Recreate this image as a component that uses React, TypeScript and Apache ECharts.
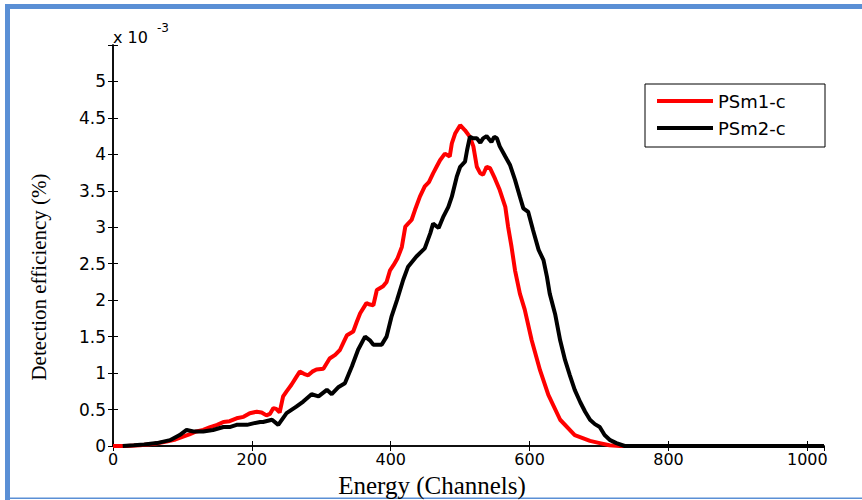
import React, { useEffect, useRef } from "react";
import * as echarts from "echarts";

// Detection efficiency (x 10^-3 %) versus energy channel
const psm1Channels = [0, 20, 39, 60, 77, 90, 101, 110, 120, 130, 140, 150, 159, 168, 178, 188, 197, 207, 214, 221, 226, 231, 235, 240, 245, 250, 257, 263, 269, 275, 281, 287, 293, 303, 312, 320, 327, 332, 337, 346, 351, 356, 365, 370, 375, 380, 389, 394, 399, 404, 410, 416, 421, 430, 435, 442, 449, 455, 461, 466, 471, 478, 485, 488, 493, 500, 507, 514, 519, 524, 529, 533, 538, 543, 550, 557, 565, 569, 574, 579, 586, 593, 603, 615, 627, 644, 665, 687, 701, 715, 730, 1024];
const psm1Values = [0, 0, 0.01, 0.03, 0.06, 0.09, 0.13, 0.16, 0.2, 0.22, 0.26, 0.29, 0.33, 0.34, 0.38, 0.4, 0.45, 0.47, 0.46, 0.42, 0.44, 0.52, 0.51, 0.46, 0.68, 0.75, 0.84, 0.93, 1.02, 0.99, 0.97, 1.02, 1.05, 1.06, 1.2, 1.25, 1.32, 1.42, 1.52, 1.57, 1.7, 1.82, 1.96, 1.94, 1.93, 2.14, 2.19, 2.25, 2.41, 2.48, 2.58, 2.73, 3.01, 3.1, 3.24, 3.42, 3.56, 3.62, 3.74, 3.83, 3.92, 4.01, 3.97, 4.15, 4.29, 4.4, 4.33, 4.24, 4.11, 3.83, 3.74, 3.72, 3.83, 3.81, 3.67, 3.51, 3.28, 3.01, 2.73, 2.41, 2.09, 1.87, 1.45, 1.04, 0.7, 0.36, 0.15, 0.07, 0.04, 0.01, 0, 0];

const psm2Channels = [14, 30, 45, 63, 82, 96, 106, 116, 130, 144, 159, 168, 178, 193, 202, 212, 216, 229, 238, 250, 264, 274, 286, 296, 308, 315, 325, 334, 344, 353, 363, 370, 375, 387, 394, 401, 409, 418, 425, 437, 449, 457, 461, 469, 476, 483, 488, 495, 500, 507, 510, 514, 519, 524, 529, 533, 538, 545, 549, 553, 557, 565, 572, 579, 586, 591, 598, 605, 613, 620, 625, 629, 637, 644, 651, 658, 665, 673, 680, 687, 694, 701, 708, 716, 725, 737, 1024];
const psm2Values = [0, 0.01, 0.02, 0.04, 0.08, 0.15, 0.22, 0.2, 0.2, 0.22, 0.26, 0.26, 0.29, 0.29, 0.31, 0.33, 0.33, 0.36, 0.29, 0.45, 0.54, 0.61, 0.71, 0.68, 0.77, 0.71, 0.81, 0.86, 1.09, 1.32, 1.5, 1.45, 1.39, 1.39, 1.5, 1.77, 2.0, 2.28, 2.46, 2.6, 2.71, 2.92, 3.05, 2.99, 3.15, 3.28, 3.42, 3.69, 3.83, 3.9, 4.06, 4.24, 4.22, 4.22, 4.16, 4.22, 4.25, 4.17, 4.24, 4.22, 4.11, 3.97, 3.85, 3.65, 3.42, 3.26, 3.21, 2.96, 2.69, 2.55, 2.32, 2.09, 1.8, 1.45, 1.18, 0.97, 0.77, 0.6, 0.47, 0.36, 0.3, 0.26, 0.15, 0.08, 0.04, 0, 0];

const seriesNames = ["PSm1-c", "PSm2-c"];
const xTitle = "Energy (Channels)";
const yTitle = "Detection efficiency (%)";

const pairs = (xs: number[], ys: number[]) => xs.map((x, i) => [x, ys[i]]);

const FRAME = "#5a8fd5";
const TICK_FONT = "DejaVu Sans";

export default function App() {
  const ref = useRef<HTMLDivElement>(null);

  useEffect(() => {
    if (!ref.current) return;
    const chart = echarts.init(ref.current, null, { renderer: "svg" });

    const axisLine = { show: true, lineStyle: { color: "#000", width: 1.5 } };
    const axisTick = { show: true, inside: true, length: 5, lineStyle: { color: "#000", width: 1 } };

    chart.setOption({
      animation: false,
      backgroundColor: "#fff",
      grid: { left: 113, right: 38, top: 45, bottom: 54 },
      xAxis: [
        {
          type: "value",
          position: "bottom",
          min: 0,
          max: 1024,
          interval: 200,
          axisLine,
          axisTick,
          splitLine: { show: false },
          axisLabel: {
            margin: 5,
            color: "#000",
            fontFamily: TICK_FONT,
            fontSize: 16,
            lineHeight: 16,
            showMaxLabel: false,
            formatter: (v: number) => (v % 200 === 0 ? String(v) : ""),
          },
        },
        {
          type: "value",
          position: "top",
          min: 0,
          max: 1024,
          interval: 200,
          axisLine,
          axisTick,
          splitLine: { show: false },
          axisLabel: { show: false },
        },
      ],
      yAxis: [
        {
          type: "value",
          position: "left",
          min: 0,
          max: 5.5,
          interval: 0.5,
          axisLine,
          axisTick,
          splitLine: { show: false },
          axisLabel: {
            margin: 7,
            color: "#000",
            fontFamily: TICK_FONT,
            fontSize: 17,
            formatter: (v: number) => (v >= 5.49 ? "" : String(+v.toFixed(1))),
          },
        },
        {
          type: "value",
          position: "right",
          min: 0,
          max: 5.5,
          interval: 0.5,
          axisLine,
          axisTick,
          splitLine: { show: false },
          axisLabel: { show: false },
        },
      ],
      legend: {
        data: seriesNames,
        orient: "vertical",
        left: 657,
        top: 92,
        padding: 0,
        icon: "rect",
        itemWidth: 56,
        itemHeight: 4,
        itemGap: 9,
        textStyle: { fontFamily: TICK_FONT, fontSize: 18, lineHeight: 18, color: "#000" },
      },
      series: [
        {
          name: seriesNames[0],
          type: "line",
          showSymbol: false,
          data: pairs(psm1Channels, psm1Values),
          lineStyle: { color: "#ff0000", width: 4 },
          itemStyle: { color: "#ff0000" },
          z: 2,
        },
        {
          name: seriesNames[1],
          type: "line",
          showSymbol: false,
          data: pairs(psm2Channels, psm2Values),
          lineStyle: { color: "#000", width: 4 },
          itemStyle: { color: "#000" },
          z: 3,
        },
      ],
      graphic: [
        // blue frame around the figure
        { type: "rect", shape: { x: 5, y: 4, width: 857, height: 5 }, style: { fill: FRAME }, silent: true },
        { type: "rect", shape: { x: 5, y: 4, width: 5, height: 496 }, style: { fill: FRAME }, silent: true },
        { type: "rect", shape: { x: 10, y: 497.5, width: 852, height: 1.5 }, style: { fill: FRAME }, silent: true },
        // legend box
        {
          type: "rect",
          shape: { x: 645, y: 84, width: 180, height: 63 },
          style: { fill: "rgba(0,0,0,0)", stroke: "#000", lineWidth: 1 },
          silent: true,
        },
        // axis scale factor
        {
          type: "text",
          x: 113,
          y: 37,
          style: { text: "x 10", font: `16px "${TICK_FONT}"`, fill: "#000", textAlign: "left", textVerticalAlign: "middle" },
        },
        {
          type: "text",
          x: 157,
          y: 28,
          style: { text: "-3", font: `12px "${TICK_FONT}"`, fill: "#000", textAlign: "left", textVerticalAlign: "middle" },
        },
        // axis titles
        {
          type: "text",
          x: 432,
          y: 485,
          style: { text: xTitle, font: '25px "Liberation Serif"', fill: "#000", textAlign: "center", textVerticalAlign: "middle" },
        },
        {
          type: "text",
          x: 39,
          y: 277,
          rotation: Math.PI / 2,
          style: { text: yTitle, font: '21px "Liberation Serif"', fill: "#000", textAlign: "center", textVerticalAlign: "middle" },
        },
      ],
    });

    return () => chart.dispose();
  }, []);

  return (
    <div
      ref={ref}
      style={{ position: "absolute", left: 0, top: 0, width: 862, height: 500 }}
    />
  );
}
